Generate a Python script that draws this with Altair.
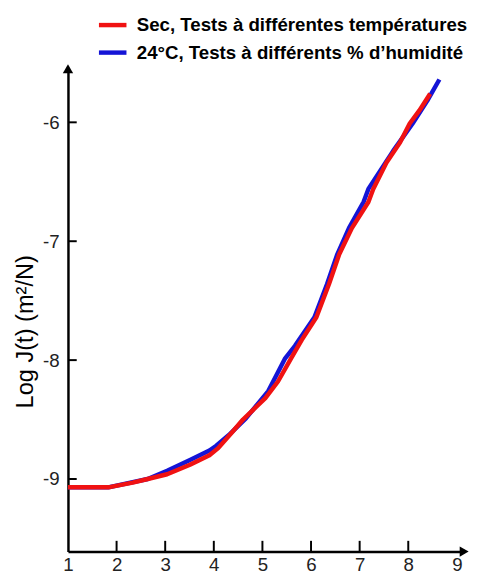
import altair as alt
import pandas as pd

# ---- data ----
series_names = ["Sec, Tests à différentes températures",
                "24°C, Tests à différents % d’humidité"]
series_colors = ["#f01212", "#1414d6"]

red_x = [1.00, 1.83, 2.33, 2.64, 3.04, 3.51, 3.91, 4.09, 4.39, 4.60, 5.06, 5.32, 5.61,
         5.81, 6.11, 6.37, 6.58, 6.84, 7.18, 7.28, 7.55, 7.83, 8.03, 8.23, 8.45]
red_y = [-9.07, -9.07, -9.03, -9.00, -8.96, -8.88, -8.80, -8.74, -8.60, -8.50, -8.32, -8.18, -7.97,
         -7.83, -7.64, -7.36, -7.11, -6.89, -6.67, -6.56, -6.34, -6.17, -6.01, -5.90, -5.76]

blue_x = [1.00, 1.83, 2.64, 3.04, 3.51, 3.91, 4.05, 4.31, 4.66, 5.12, 5.46, 5.67, 6.07,
          6.33, 6.54, 6.78, 7.08, 7.18, 7.69, 8.09, 8.39, 8.64]
blue_y = [-9.07, -9.07, -9.00, -8.93, -8.84, -8.76, -8.72, -8.63, -8.49, -8.26, -7.99, -7.88, -7.64,
          -7.36, -7.11, -6.89, -6.67, -6.56, -6.24, -6.01, -5.82, -5.64]

x_tick_values = [1, 2, 3, 4, 5, 6, 7, 8, 9]
y_tick_values = [-9, -8, -7, -6]
x_min, x_max = 1, 9.15
y_min, y_max = -9.61, -5.55

# ---- tables ----
rows = []
for i, (xv, yv) in enumerate(zip(red_x, red_y)):
    rows.append({"series": series_names[0], "x": xv, "y": yv, "idx": i})
for i, (xv, yv) in enumerate(zip(blue_x, blue_y)):
    rows.append({"series": series_names[1], "x": xv, "y": yv, "idx": i})
df = pd.DataFrame(rows)

xtick_df = pd.DataFrame({"x": [v for v in x_tick_values if 1 < v < 9],
                         "y": y_min, "y2": y_min + 0.09})
ytick_df = pd.DataFrame({"y": y_tick_values, "x": x_min, "x2": x_min + 0.18})
arrow_up = pd.DataFrame({"x": [x_min], "y": [y_max]})
arrow_right = pd.DataFrame({"x": [x_max], "y": [y_min]})

font = "Liberation Sans"
xscale = alt.Scale(domain=[x_min, x_max], nice=False, zero=False)
yscale = alt.Scale(domain=[y_min, y_max], nice=False, zero=False)

xaxis = alt.Axis(values=x_tick_values, title=None, ticks=False, grid=False,
                 domainColor="black", domainWidth=2.5, labelFont=font,
                 labelFontSize=19, labelColor="#222", labelPadding=4,
                 labelExpr="'' + datum.value", labelFlush=False)
yaxis = alt.Axis(values=y_tick_values, title="Log J(t) (m²/N)", ticks=False, grid=False,
                 domainColor="black", domainWidth=2.5, labelFont=font,
                 labelFontSize=19, labelColor="#222", labelPadding=9,
                 labelExpr="'' + datum.value",
                 titleFont=font, titleFontSize=24, titleFontWeight="normal",
                 titleColor="black", titleAngle=270, titleAlign="center",
                 titleBaseline="middle", titleX=-43, titleY=267)

X = alt.X("x:Q", scale=xscale, axis=xaxis)
Y = alt.Y("y:Q", scale=yscale, axis=yaxis)

color = alt.Color("series:N",
                  scale=alt.Scale(domain=series_names, range=series_colors),
                  legend=alt.Legend(orient="none", legendX=29, legendY=-61,
                                    title=None, symbolType="stroke", symbolSize=784,
                                    symbolStrokeWidth=4.5, labelFont=font,
                                    labelFontSize=19, labelFontWeight="bold",
                                    labelColor="black", labelLimit=500,
                                    labelOffset=8, rowPadding=1, padding=0))

blue = alt.Chart(df).transform_filter(alt.datum.series == series_names[1]).mark_line(
    strokeWidth=4.5, strokeJoin="round").encode(x=X, y=Y, color=color, order="idx:Q")
red = alt.Chart(df).transform_filter(alt.datum.series == series_names[0]).mark_line(
    strokeWidth=4.5, strokeJoin="round").encode(x=X, y=Y, color=color, order="idx:Q")

xticks = alt.Chart(xtick_df).mark_rule(color="black", strokeWidth=2).encode(
    x=X, y=Y, y2="y2:Q")
yticks = alt.Chart(ytick_df).mark_rule(color="black", strokeWidth=2).encode(
    y=Y, x=X, x2="x2:Q")
up = alt.Chart(arrow_up).mark_point(shape="triangle-up", filled=True, size=110,
                                     color="black", opacity=1).encode(x=X, y=Y)
right = alt.Chart(arrow_right).mark_point(shape="triangle-right", filled=True, size=110,
                                          color="black", opacity=1).encode(x=X, y=Y)

chart = alt.layer(blue, red, xticks, yticks, up, right).properties(
    width=403, height=491,
    autosize=alt.AutoSizeParams(type="none"),
    padding={"left": 61, "top": 57, "right": 10, "bottom": 19},
    background="white",
).configure_view(stroke=None)

chart.save("out.html", embed_options={"renderer": "svg", "actions": False})
